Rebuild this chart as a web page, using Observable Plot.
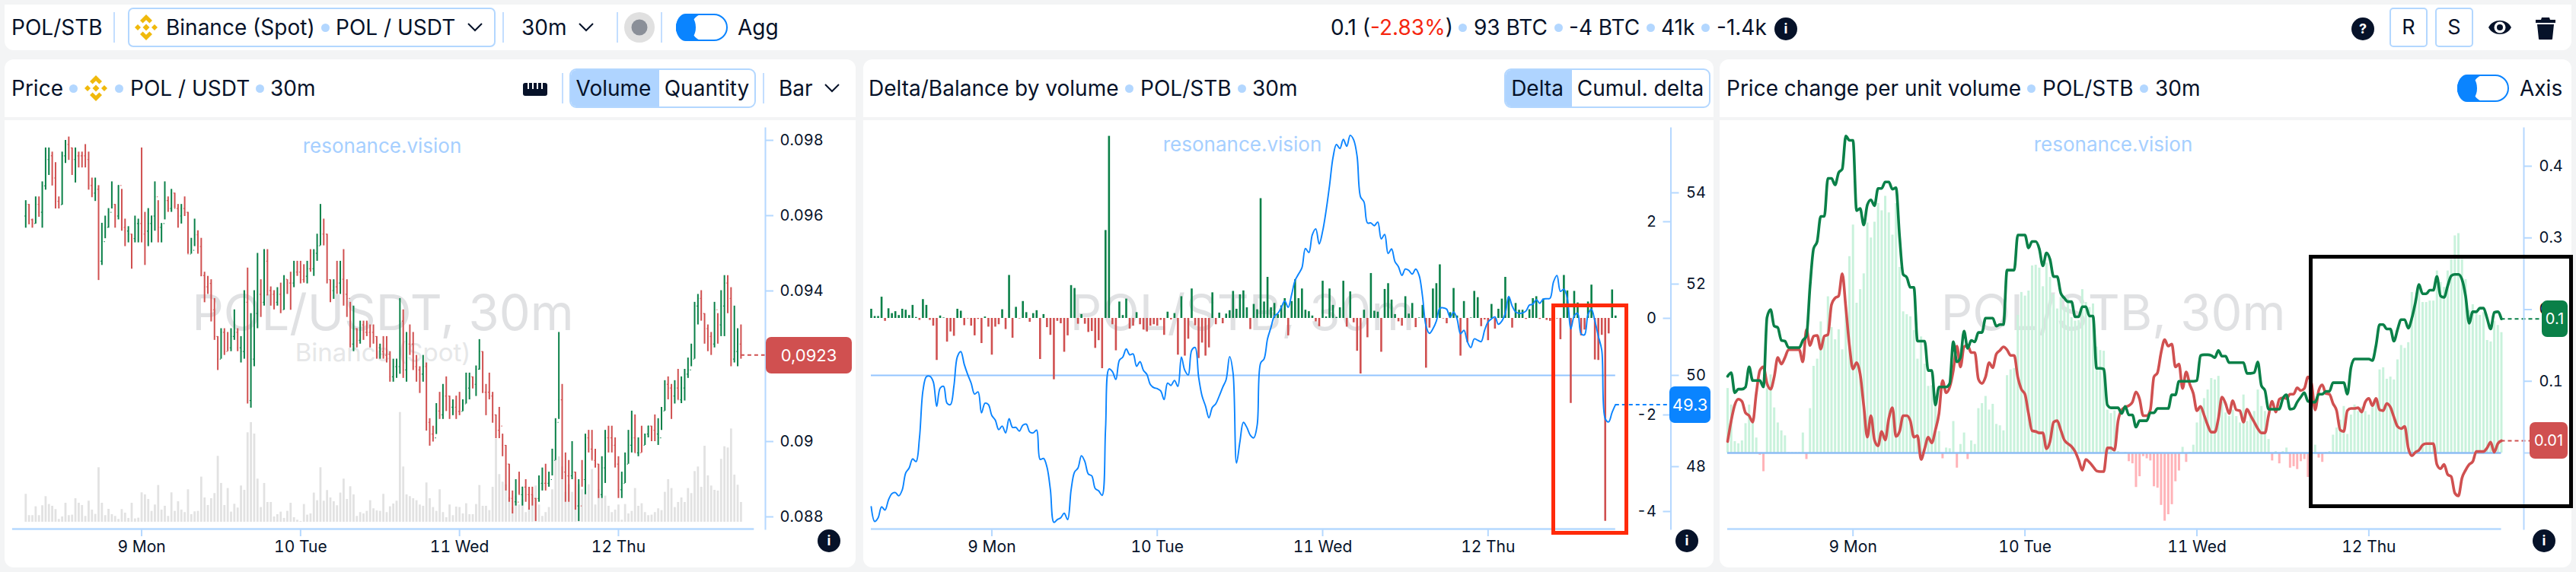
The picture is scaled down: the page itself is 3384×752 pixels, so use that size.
<!DOCTYPE html>
<html><head><meta charset="utf-8">
<script src="https://cdn.jsdelivr.net/npm/d3@7"></script>
<script src="https://cdn.jsdelivr.net/npm/@observablehq/plot@0.6"></script>
<style>
html,body{margin:0;padding:0;width:3384px;height:752px;overflow:hidden;background:#f3f4f5;font-family:Inter,"Noto Sans",sans-serif;color:#061229}
.box{position:absolute;background:#fff}
.t{position:absolute;white-space:pre;line-height:1;transform:translateY(-50%)}
.abs{position:absolute}
svg{display:block}
</style></head><body>
<script>
// ---------- data ----------
const priceHigh=[
9640,9630,9591,9650,9650,9690,9780,9780,9769,9741,
9650,9769,9800,9809,9780,9780,9769,9769,9789,9769,
9700,9700,9680,9580,9599,9619,9690,9630,9680,9670,
9591,9571,9551,9599,9591,9780,9609,9619,9599,9690,
9640,9579,9690,9650,9670,9660,9630,9630,9650,9609,
9540,9591,9560,9540,9450,9439,9430,9380,9279,9300,
9300,9290,9300,9350,9300,9279,9401,9461,9340,9401,
9500,9430,9510,9510,9411,9401,9409,9421,9441,9430,
9450,9479,9479,9479,9470,9479,9510,9510,9551,9630,
9591,9551,9430,9430,9479,9479,9510,9430,9370,9360,
9300,9320,9320,9320,9310,9310,9279,9259,9279,9279,
9239,9219,9219,9380,9350,9290,9310,9290,9229,9199,
9229,9209,9061,9041,9101,9131,9152,9172,9121,9111,
9121,9131,9111,9182,9182,9172,9201,9271,9239,9152,
9182,9131,9071,9091,9020,8990,8940,8869,8899,8919,
8879,8899,8879,8879,8849,8909,8930,8940,8919,8980,
9061,9290,9152,8970,8950,9000,8919,8899,8950,9020,
9030,9030,8980,8940,8960,9030,9041,9041,9010,8960,
8919,8970,9030,9081,9071,9010,9041,9020,9041,9041,
9071,9061,9091,9162,9172,9152,9162,9192,9172,9192,
9222,9259,9370,9391,9401,9340,9310,9290,9370,9340,
9401,9441,9441,9409,9360,9300,9310];
const priceLow=[
9567,9576,9567,9578,9596,9567,9668,9707,9679,9618,
9618,9628,9739,9747,9707,9687,9727,9727,9727,9668,
9648,9638,9428,9468,9539,9567,9618,9567,9589,9559,
9518,9528,9458,9528,9528,9528,9468,9518,9528,9559,
9528,9528,9589,9609,9609,9619,9567,9578,9598,9498,
9498,9518,9498,9438,9369,9391,9318,9269,9189,9219,
9229,9239,9239,9269,9239,9209,9219,9100,9089,9199,
9300,9330,9360,9387,9360,9350,9360,9340,9349,9391,
9349,9409,9439,9419,9421,9419,9450,9439,9479,9520,
9520,9419,9369,9378,9391,9391,9360,9330,9249,9239,
9249,9259,9269,9279,9249,9259,9219,9219,9219,9209,
9158,9158,9168,9179,9168,9158,9229,9189,9158,9128,
9158,9028,8988,8999,9019,9059,9059,9080,9059,9069,
9059,9069,9080,9100,9111,9140,9120,9190,9128,9069,
9111,9049,9008,9008,8960,8869,8839,8808,8829,8859,
8829,8839,8818,8829,8788,8839,8869,8869,8879,8909,
8950,9059,8899,8839,8839,8899,8818,8788,8879,8859,
8970,8950,8930,8849,8849,8889,8970,8970,8930,8849,
8849,8889,8940,8970,8970,8960,8970,8990,9010,9000,
9000,8990,9030,9081,9111,9059,9100,9111,9101,9108,
9168,9199,9219,9310,9320,9259,9239,9229,9249,9259,
9279,9279,9340,9199,9209,9199,9219];
const priceClose=[
9630,9589,9579,9630,9609,9679,9749,9759,9700,9638,
9629,9759,9789,9780,9749,9759,9759,9759,9749,9680,
9660,9670,9479,9531,9569,9609,9630,9599,9680,9569,
9559,9551,9539,9579,9579,9551,9559,9579,9599,9650,
9569,9579,9640,9619,9660,9619,9599,9619,9609,9498,
9508,9549,9518,9441,9411,9420,9350,9279,9219,9290,
9239,9249,9279,9290,9249,9239,9370,9109,9219,9340,
9391,9370,9479,9401,9391,9370,9391,9350,9431,9421,
9421,9450,9450,9430,9439,9459,9459,9500,9520,9551,
9551,9430,9401,9411,9421,9431,9391,9380,9259,9300,
9269,9310,9290,9290,9290,9279,9249,9239,9229,9232,
9172,9199,9199,9320,9190,9259,9259,9199,9190,9179,
9199,9051,9020,9010,9081,9071,9121,9121,9091,9091,
9080,9080,9100,9142,9172,9152,9192,9239,9131,9131,
9121,9071,9030,9041,8990,8940,8849,8840,8839,8859,
8879,8859,8859,8849,8849,8889,8889,8889,8899,8950,
9051,9111,8919,8909,8909,8919,8829,8829,8899,9010,
8980,8950,8940,8859,8930,9010,9010,8990,8940,8872,
8889,8940,8990,9010,8970,8970,8990,9020,9041,9030,
9020,9010,9081,9152,9142,9121,9142,9111,9142,9179,
9190,9219,9360,9380,9340,9300,9279,9259,9350,9310,
9360,9421,9380,9219,9239,9259,9230];
const priceUp=[
1,0,0,1,0,1,1,1,0,0,
0,1,1,0,0,1,0,0,0,0,
0,1,0,1,1,1,1,0,1,0,
0,1,0,1,1,0,0,1,1,1,
0,1,1,0,1,0,0,1,0,0,
1,1,0,0,0,0,0,0,0,1,
0,0,1,1,0,1,1,0,1,1,
1,0,1,0,0,0,1,0,1,0,
0,1,0,0,0,1,0,1,1,1,
0,0,0,1,0,1,0,0,0,1,
0,1,0,0,0,0,0,1,0,0,
0,1,1,1,0,1,0,0,0,0,
1,0,0,0,1,0,1,0,0,1,
0,0,1,1,1,0,1,1,0,0,
0,0,0,0,0,0,0,0,1,0,
1,0,0,0,0,1,1,0,1,1,
1,1,0,0,0,1,0,1,0,1,
0,0,0,0,1,1,0,0,0,0,
1,1,1,1,0,1,0,1,1,0,
0,1,1,1,0,0,1,0,1,1,
1,1,1,1,0,0,0,0,1,0,
1,1,0,0,1,1,0];
const volume=[
110,26,26,61,26,65,101,70,63,50,
11,21,75,26,28,93,75,66,23,83,
48,31,215,75,26,51,30,23,11,50,
36,15,75,13,16,116,108,90,43,68,
145,48,63,23,116,43,81,48,38,128,
30,41,43,178,96,66,93,113,260,153,
66,133,40,71,56,143,126,353,393,348,
170,58,153,78,78,21,30,40,15,43,
75,18,8,3,70,28,33,115,85,215,
83,125,96,81,65,115,170,90,140,108,
23,38,33,43,85,53,45,43,110,38,
61,72,83,433,218,108,101,93,85,68,
63,155,93,58,43,128,38,18,68,26,
60,58,33,73,30,30,70,145,63,63,
46,138,328,188,158,148,98,58,103,68,
88,38,58,108,143,68,23,38,58,128,
248,258,218,118,148,118,178,148,128,118,
148,208,68,128,93,103,63,38,48,68,
8,70,33,43,133,63,73,38,26,28,
38,53,46,118,168,133,58,78,96,78,
133,113,200,218,138,300,183,143,126,123,
248,298,293,368,186,146,78];
const delta=[
.19,.04,.04,.44,-.06,.20,.10,.14,.06,.19,
.17,.06,.27,.02,-.04,.39,.27,-.04,-.16,-.87,
.05,.01,-.49,-.28,-.37,.19,.15,-.15,-.01,-.16,
-.36,-.02,-.52,.03,-.18,-.76,-.18,-.13,.18,-.23,
.89,-.41,.23,-.01,.35,.12,-.08,.10,.16,-.85,
.08,-.19,-.35,-1.27,-.06,-.11,-.70,-.36,.68,.62,
-.12,.08,-.12,-.29,-.27,-.62,-.46,-1.04,1.82,3.77,
-.13,-.67,.34,.06,.40,-.22,-.16,.12,-.13,-.24,
-.28,-.16,-.13,-.16,-.04,-.35,.13,-.03,.10,-.76,
.45,-.78,-.43,.61,-.15,-.83,-.51,-.78,-.61,.53,
-.13,.11,-.11,.09,.16,.56,.19,.49,.57,.22,
-.23,.29,.18,2.48,.34,.85,.22,.31,.08,.26,
.41,-.36,.35,.80,.41,.61,.17,.14,.05,-.07,
-.17,.77,.03,.61,.27,.02,.22,.77,-.18,.55,
-.09,-.68,-1.15,.17,-.40,.93,.15,.13,-.70,.60,
.72,.38,.08,-.07,-.16,.45,.09,.31,-.19,.01,
.27,-1.03,-.20,.61,.72,1.11,-.01,-.11,.12,.62,
.05,-.78,.35,-.50,.01,.56,.43,-.17,-.03,-.46,
.29,-.22,.19,.40,.85,.44,-.20,.31,.17,.17,
-.02,.18,.41,.45,-.02,.40,-.04,-.06,-.34,-.01,
-.44,.89,.57,-1.76,.56,.32,-.36,-.24,.34,.69,
-.86,-.87,-.35,-4.20,-.32,.59,.05];
const balance=[
47.12,46.80,46.88,47.12,47.05,47.27,47.41,47.43,47.36,47.49,
47.86,47.97,48.17,48.11,48.63,49.66,49.97,49.98,49.86,49.32,
49.72,49.76,49.39,49.36,49.77,50.41,50.52,50.24,50.02,49.83,
49.59,49.64,49.18,49.39,49.36,49.12,49.02,48.81,48.89,48.74,
49.05,48.86,48.86,48.78,48.91,48.93,48.76,48.74,48.80,48.16,
48.18,47.99,47.49,46.78,46.84,46.88,46.98,46.84,47.49,47.88,
47.97,48.24,48.11,47.84,47.80,47.52,47.47,47.37,48.83,50.14,
50.08,49.91,50.33,50.40,50.58,50.45,50.47,50.20,50.30,50.11,
50.02,49.80,49.73,49.71,49.66,49.47,49.83,49.78,49.89,49.76,
50.40,50.11,50.01,50.55,50.61,49.97,49.55,49.33,49.07,49.30,
49.38,49.55,49.74,49.91,50.41,50.05,48.08,48.55,48.97,48.86,
48.69,48.63,48.91,50.27,50.36,50.80,51.05,51.30,51.36,51.49,
51.63,51.49,51.77,52.08,52.22,52.36,52.78,52.69,53.08,53.21,
52.88,53.16,53.61,54.16,54.77,55.06,54.97,55.17,55.02,55.26,
55.16,54.80,53.91,53.80,53.34,53.34,53.28,53.36,52.99,53.09,
52.67,52.77,52.49,52.38,52.19,52.33,52.30,52.22,52.33,52.19,
51.72,51.08,50.92,51.02,51.19,51.47,51.48,51.45,51.27,51.39,
51.24,50.91,50.99,50.74,50.61,50.80,50.77,50.74,50.99,51.17,
51.24,51.28,51.12,51.19,51.36,51.73,51.52,51.39,51.36,51.37,
51.41,51.54,51.56,51.66,51.58,51.67,51.68,51.69,52.05,52.19,
51.84,51.89,51.69,51.02,51.30,51.36,50.91,50.89,51.33,51.45,
51.19,50.86,50.55,49.05,48.98,49.19,49.36];
const changeHist=[
.090,.067,.016,.013,.017,.041,.067,.048,.021,-.003,
-.026,.090,.109,.063,.042,.031,.024,.001,.001,.001,
.001,.028,-.009,.062,.121,.131,.183,.162,.218,.175,
.158,.172,.144,.203,.274,.318,.209,.228,.250,.321,
.300,.322,.348,.338,.358,.335,.304,.348,.259,.197,
.193,.190,.171,.131,.162,.124,.093,.094,.067,.030,
-.008,.007,.006,.044,-.021,.012,.028,-.009,.017,.012,
.062,.069,.079,.060,.068,.040,.038,.031,.108,.116,
.118,.192,.224,.219,.226,.261,.262,.258,.232,.265,
.245,.221,.201,.217,.203,.215,.189,.184,.185,.228,
.210,.203,.208,.148,.143,.142,.060,.055,.059,.002,
-.001,.001,-.012,-.015,-.048,-.033,-.005,-.008,-.011,-.047,
-.049,-.073,-.095,-.086,-.072,-.040,-.025,.008,-.013,.001,
.011,.042,.065,.076,.088,.104,.102,.107,.071,.056,
.051,.060,.051,.042,.081,.044,.051,.058,.088,.065,
.058,.019,-.011,.002,-.015,.002,.007,-.021,-.019,-.023,
-.012,-.009,-.034,-.005,.011,-.007,-.013,.001,.002,.025,
.035,.046,.065,.026,.053,.067,.058,.064,.058,.053,
.064,.076,.116,.119,.103,.106,.102,.130,.150,.146,
.154,.224,.215,.235,.210,.210,.212,.212,.254,.238,
.231,.254,.270,.303,.306,.270,.242,.199,.207,.196,
.192,.196,.157,.155,.184,.178,.168];
const changeGreen=[
.107,.112,.084,.089,.089,.092,.120,.101,.101,.101,
.092,.189,.200,.177,.175,.157,.156,.147,.147,.147,
.147,.157,.163,.232,.285,.295,.330,.330,.383,.383,
.374,.391,.396,.442,.436,.436,.338,.341,.318,.346,
.353,.345,.369,.369,.378,.378,.368,.370,.302,.249,
.245,.231,.231,.156,.156,.156,.115,.115,.067,.092,
.092,.092,.097,.155,.127,.133,.170,.146,.157,.155,
.168,.168,.188,.188,.188,.177,.179,.179,.255,.255,
.255,.304,.304,.304,.286,.295,.295,.285,.261,.279,
.270,.246,.246,.223,.216,.211,.211,.190,.190,.204,
.204,.191,.191,.118,.118,.117,.067,.063,.063,.063,
.055,.065,.053,.053,.036,.045,.045,.045,.056,.056,
.062,.062,.062,.062,.081,.081,.100,.100,.100,.100,
.100,.101,.136,.137,.137,.136,.133,.143,.135,.135,
.126,.126,.126,.126,.126,.111,.111,.112,.127,.094,
.087,.061,.061,.061,.061,.076,.081,.061,.062,.071,
.078,.084,.072,.071,.071,.082,.082,.086,.086,.098,
.098,.098,.098,.082,.119,.131,.131,.131,.131,.131,
.129,.150,.179,.179,.173,.173,.156,.172,.186,.186,
.174,.188,.210,.235,.222,.222,.227,.227,.246,.219,
.217,.233,.247,.249,.249,.242,.219,.181,.197,.197,
.202,.202,.188,.173,.196,.197,.187];
const changeRed=[
.016,.045,.067,.075,.072,.056,.052,.043,.083,.115,
.120,.097,.089,.106,.133,.124,.133,.144,.144,.144,
.144,.127,.172,.150,.163,.164,.145,.163,.165,.207,
.216,.219,.250,.203,.150,.117,.126,.110,.066,.022,
.052,.018,.010,.030,.018,.048,.063,.023,.030,.052,
.052,.045,.022,.024,-.009,.006,.022,.014,.032,.055,
.101,.084,.092,.115,.149,.120,.148,.150,.140,.140,
.103,.097,.106,.126,.119,.138,.143,.148,.144,.136,
.136,.106,.089,.082,.055,.031,.030,.028,.028,.006,
.016,.043,.045,.032,.018,.013,.009,.002,-.010,-.024,
-.009,-.013,-.019,-.025,-.026,-.026,.007,.007,.004,.045,
.060,.064,.066,.071,.085,.075,.052,.052,.060,.106,
.112,.140,.158,.149,.152,.120,.124,.090,.113,.096,
.083,.059,.065,.053,.039,.029,.029,.048,.078,.069,
.055,.073,.060,.059,.043,.061,.052,.043,.034,.028,
.028,.052,.072,.057,.075,.077,.076,.082,.082,.091,
.087,.090,.106,.097,.060,.087,.095,.083,.082,.069,
.059,.032,.030,.059,.062,.062,.063,.057,.071,.076,
.066,.076,.060,.059,.069,.064,.050,.037,.034,.037,
.007,-.004,.001,.004,.011,.013,.013,.013,-.016,-.022,
-.016,-.030,-.033,-.056,-.060,-.035,-.024,-.016,-.012,.002,
.002,.002,.007,.015,.001,.013,.017];
const priceTicks=[0.098,0.096,0.094,0.092,0.09,0.088];
const deltaTicks=[2,0,-2,-4];
const balanceTicks=[54,52,50,48];
const changeTicks=[0.4,0.3,0.2,0.1,0];
const dayTicks=[Date.UTC(2026,1,9),Date.UTC(2026,1,10),Date.UTC(2026,1,11),Date.UTC(2026,1,12)].map(d=>new Date(d));

// ---------- helpers ----------
const GREEN="#0a8048",RED="#d05050",AXIS="#b5d8ff",INK="#061229",BLUE="#0a84ff",LIGHT="#b3d7ff";
const startMs=Date.UTC(2026,1,8,6,30);
const time=i=>new Date(startMs+i*1800000);
const idx=d3.range(priceHigh.length);
const dayFmt=d3.utcFormat("%-d %a");
const add=(html)=>{const w=document.createElement("div");w.innerHTML=html;const n=w.firstElementChild;document.body.appendChild(n);return n;};
const box=(x,y,w,h,r)=>add(`<div class="box" style="left:${x}px;top:${y}px;width:${w}px;height:${h}px;border-radius:${r}"></div>`);
const label=(x,cy,s,size=28,extra="")=>add(`<div class="t" style="left:${x}px;top:${cy}px;font-size:${size}px;${extra}">${s}</div>`);
const dot=(x,cy)=>add(`<div class="abs" style="left:${x-5.5}px;top:${cy-5.5}px;width:11px;height:11px;border-radius:50%;background:${LIGHT}"></div>`);
const divider=(x,cy)=>add(`<div class="abs" style="left:${x-1}px;top:${cy-20}px;width:2px;height:40px;background:#c3deff"></div>`);
const svgAt=(x,y,w,h,body)=>add(`<svg class="abs" style="left:${x}px;top:${y}px" width="${w}" height="${h}" viewBox="0 0 ${w} ${h}">${body}</svg>`);
const binance=(cx,cy)=>svgAt(cx-15,cy-17,30,34,`<g fill="#f0b90b"><path d="M15 0l8 8-3.6 3.6L15 7.2l-4.4 4.4L7 8z"/><path d="M15 34l8-8-3.6-3.6L15 26.8l-4.4-4.4L7 26z"/><path d="M4 13l4 4-4 4-4-4z"/><path d="M26 13l4 4-4 4-4-4z"/><path d="M15 12.5l4.5 4.5-4.5 4.5-4.5-4.5z"/></g>`);
const chevron=(cx,cy)=>svgAt(cx-11,cy-7,22,14,`<path d="M2 2l9 9 9-9" fill="none" stroke="${INK}" stroke-width="2"/>`);
const toggle=(x,cy)=>svgAt(x,cy-18,68,36,`<rect x="1" y="1" width="66" height="34" rx="17" fill="#fff" stroke="${BLUE}" stroke-width="2"/><path d="M18 0h20a18 18 0 0 0 0 36H18a18 18 0 0 1 0-36z" fill="${BLUE}"/><rect x="0" y="0" width="26" height="36" rx="18" fill="${BLUE}"/>`);
const info=(cx,cy,ch="i")=>add(`<div class="abs" style="left:${cx-15}px;top:${cy-15}px;width:30px;height:30px;border-radius:50%;background:${INK};color:#fff;font-size:18px;font-weight:700;text-align:center;line-height:30px">${ch}</div>`);
const segmented=(x,w,split,a,b)=>{
  add(`<div class="abs" style="left:${x}px;top:90px;width:${w-4}px;height:48px;border:2px solid ${LIGHT};border-radius:9px;overflow:hidden;background:#fff"><div style="width:${split}px;height:100%;background:#afd4ff"></div></div>`);
  label(x+split/2,116,a,28,"transform:translate(-50%,-50%)");
  label(x+split+(w-split)/2,116,b,28,"transform:translate(-50%,-50%)");
};
const tag=(x,y,w,h,bg,s,size=22)=>add(`<div class="abs" style="left:${x}px;top:${y}px;width:${w}px;height:${h}px;background:${bg};border-radius:7px;color:#fff;font-size:${size}px;text-align:center;line-height:${h}px">${s}</div>`);

// ---------- frames ----------
box(6,6,3372,60,"0 0 12px 12px");
box(6,78,1118,76,"12px 12px 0 0"); box(6,158,1118,588,"0 0 12px 12px");
box(1134,78,1117,76,"12px 12px 0 0"); box(1134,158,1117,588,"0 0 12px 12px");
box(2259,78,1119,76,"12px 12px 0 0"); box(2259,158,1119,588,"0 0 12px 12px");

// ---------- top bar ----------
label(15,36,"POL/STB");
divider(150,36);
add(`<div class="abs" style="left:168px;top:10px;width:479px;height:48px;border:2px solid ${LIGHT};border-radius:7px"></div>`);
binance(192,36);
label(218,36,"Binance (Spot)"); dot(427,36); label(441,36,"POL / USDT"); chevron(624,36);
divider(661,36); label(685,36,"30m"); chevron(770,36);
divider(811,36); divider(869,36);
svgAt(820,16,40,40,`<circle cx="20" cy="20" r="20" fill="#e0e0e0"/><circle cx="20" cy="20" r="10.5" fill="#8a8f98"/>`);
toggle(888,36); label(969,36,"Agg");
label(1748,36,`0.1 (<span style="color:#f5260f">-2.83%</span>)`);
dot(1921,36); label(1936,36,"93 BTC"); dot(2047,36); label(2061,36,"-4 BTC"); dot(2168,36); label(2182,36,"41k"); dot(2240,36); label(2255,36,"-1.4k");
info(2346,38);
info(3104,38,"?");
add(`<div class="abs" style="left:3139px;top:10px;width:46px;height:48px;border:2px solid ${LIGHT};border-radius:5px;font-size:27px;text-align:center;line-height:48px">R</div>`);
add(`<div class="abs" style="left:3199px;top:10px;width:46px;height:48px;border:2px solid ${LIGHT};border-radius:5px;font-size:27px;text-align:center;line-height:48px">S</div>`);
svgAt(3268,20,32,32,`<path d="M1 16C7 4 25 4 31 16C25 28 7 28 1 16z" fill="${INK}"/><circle cx="16" cy="16" r="7.5" fill="#fff"/><circle cx="16" cy="16" r="4" fill="${INK}"/>`);
svgAt(3330,20,28,32,`<path d="M9 3h10l1 3h7v4H1V6h7z M3 12h22l-2 19a1 1 0 0 1-1 1H6a1 1 0 0 1-1-1z" fill="${INK}"/>`);

// ---------- panel headers ----------
label(15,116,"Price"); dot(96,116); binance(126,116); dot(156,116); label(171,116,"POL / USDT"); dot(341,116); label(355,116,"30m");
svgAt(687,109,32,17,`<rect x="0" y="0" width="32" height="17" rx="3" fill="${INK}"/><g stroke="#fff" stroke-width="2"><path d="M7 0v8M13 0v8M19 0v8M25 0v8"/></g>`);
divider(739,116); segmented(748,245,116,"Volume","Quantity"); divider(1003,116); label(1023,116,"Bar"); chevron(1093,116);

label(1141,116,"Delta/Balance by volume"); dot(1483,116); label(1498,116,"POL/STB"); dot(1631,116); label(1645,116,"30m");
segmented(1976,271,87,"Delta","Cumul. delta");

label(2268,116,"Price change per unit volume"); dot(2668,116); label(2683,116,"POL/STB"); dot(2816,116); label(2831,116,"30m");
toggle(3228,116); label(3310,116,"Axis");

// ---------- watermarks ----------
const center=(cx,base,s,size,color)=>add(`<div class="abs" style="left:${cx}px;top:${base}px;font-size:${size}px;color:${color};line-height:0;white-space:pre;transform:translateX(-50%)">${s}</div>`);
center(502,192,"resonance.vision",26,"#a6cfff");
center(1632,190,"resonance.vision",26,"#a6cfff");
center(2776,190,"resonance.vision",26,"#a6cfff");
center(503,411,"POL/USDT, 30m",65,"#e0e1e3");
center(503,463,"Binance (Spot)",33,"#e6e7e8");
center(1632,411,"POL/STB, 30m",65,"#e0e1e3");
center(2776,411,"POL/STB, 30m",65,"#e0e1e3");

// ---------- charts ----------
const plotStyle={fontFamily:"Inter, sans-serif",fontSize:"20px",background:"transparent",overflow:"visible"};
const axisBase={stroke:AXIS,strokeWidth:2,fill:INK,label:null,tickSize:10};
const mount=(chart,x)=>{chart.style.position="absolute";chart.style.left=x+"px";chart.style.top="158px";document.body.appendChild(chart);};
const xAxis=()=>Plot.axisX({...axisBase,ticks:dayTicks,tickFormat:dayFmt,tickPadding:6,fontSize:21});
const bottomRule=(yv,i0,i1)=>Plot.ruleY([yv],{x1:time(i0),x2:time(i1),stroke:AXIS,strokeWidth:2.5});

// price
const toPrice=v=>v/1e5;
const openOf=i=>toPrice(i===0?9599:priceClose[i-1]);
const volumeToPrice=d3.scaleLinear([0,100],[0.08786,0.088533]);
const candleColor=i=>priceUp[i]?GREEN:RED;
const priceFrameBottom=0.087678;
mount(Plot.plot({
  width:1118,height:588,marginTop:10,marginBottom:51,marginLeft:0,marginRight:119,style:plotStyle,
  x:{type:"utc",domain:[time(0),time(216)],range:[27.3,966.9]},
  y:{domain:[0.088,0.098],range:[521,26]},
  marks:[
    Plot.ruleX(idx,{x:time,y1:()=>volumeToPrice(0),y2:i=>volumeToPrice(volume[i]),stroke:"#e2e2e2",strokeWidth:2.8}),
    Plot.ruleX(idx,{x:time,y1:i=>toPrice(priceLow[i]),y2:i=>toPrice(priceHigh[i]),stroke:candleColor,strokeWidth:2}),
    Plot.ruleY(idx,{y:openOf,x1:i=>time(i-0.28),x2:time,stroke:candleColor,strokeWidth:1.2}),
    Plot.ruleY(idx,{y:i=>toPrice(priceClose[i]),x1:time,x2:i=>time(i+0.28),stroke:candleColor,strokeWidth:1.2}),
    Plot.ruleY([0.0923],{x1:time(216),x2:time(223.4),stroke:RED,strokeWidth:2,strokeDasharray:"5,4"}),
    bottomRule(priceFrameBottom,-4,220),
    Plot.frame({anchor:"right",stroke:AXIS,strokeWidth:2}),
    Plot.axisY({...axisBase,anchor:"right",ticks:priceTicks,tickFormat:d=>String(d),tickPadding:9}),
    xAxis()
  ]
}),6);
tag(1006,443,113,48,RED,"0,0923");
info(1089,711);

// delta / balance
const balanceToDelta=d3.scaleLinear([48,54],[-3.0709,2.5984]);
const deltaColor=i=>delta[i]>=0?GREEN:RED;
mount(Plot.plot({
  width:1117,height:588,marginTop:10,marginBottom:51,marginLeft:1060.5,marginRight:56.5,style:plotStyle,
  x:{type:"utc",domain:[time(0),time(216)],range:[10,987.8]},
  y:{domain:[-4,2],range:[514,133]},
  marks:[
    Plot.ruleY([balanceToDelta(50)],{x1:time(0),x2:time(216),stroke:"#94c5ff",strokeWidth:2.2}),
    Plot.ruleX(idx,{x:time,y1:()=>0,y2:i=>delta[i],stroke:deltaColor,strokeWidth:2.6}),
    Plot.line(idx,{x:time,y:i=>balanceToDelta(balance[i]),stroke:BLUE,strokeWidth:1.9,curve:"catmull-rom"}),
    Plot.ruleY([balanceToDelta(49.36)],{x1:time(216),x2:time(231.7),stroke:BLUE,strokeWidth:2,strokeDasharray:"5,4"}),
    bottomRule(-4.362,0,216),
    Plot.frame({anchor:"right",stroke:AXIS,strokeWidth:2}),
    Plot.axisY({...axisBase,anchor:"left",ticks:deltaTicks,tickFormat:d=>String(d),tickPadding:9}),
    Plot.axisY({...axisBase,anchor:"right",ticks:balanceTicks.map(balanceToDelta),tickFormat:d=>String(Math.round(balanceToDelta.invert(d))),tickPadding:10}),
    xAxis()
  ]
}),1134);
tag(2193,508,54,48,BLUE,"49.3");
info(2216,711);
add(`<div class="abs" style="left:2038px;top:399px;width:91px;height:294px;border:5.5px solid #ff2a0a"></div>`);

// price change per unit volume
mount(Plot.plot({
  width:1119,height:588,marginTop:10,marginBottom:51,marginLeft:0,marginRight:63,style:plotStyle,
  x:{type:"utc",domain:[time(0),time(216)],range:[10,1026.5]},
  y:{domain:[0,0.4],range:[437,60]},
  marks:[
    Plot.ruleX(idx,{x:time,y1:()=>0,y2:i=>changeHist[i],stroke:i=>changeHist[i]>=0?"#c9f2dc":"#ffb3b8",strokeWidth:3}),
    Plot.ruleY([0],{x1:time(0),x2:time(216),stroke:"#8dbdf5",strokeWidth:2.5}),
    Plot.line(idx,{x:time,y:i=>changeRed[i],stroke:RED,strokeWidth:3.6,curve:"monotone-x"}),
    Plot.line(idx,{x:time,y:i=>changeGreen[i],stroke:GREEN,strokeWidth:3.6,curve:"monotone-x"}),
    Plot.ruleY([0.187],{x1:time(216),x2:time(227.4),stroke:GREEN,strokeWidth:2,strokeDasharray:"5,4"}),
    Plot.ruleY([0.017],{x1:time(216),x2:time(224),stroke:RED,strokeWidth:2,strokeDasharray:"5,4"}),
    bottomRule(-0.106,0,216),
    Plot.frame({anchor:"right",stroke:AXIS,strokeWidth:2}),
    Plot.axisY({...axisBase,anchor:"right",ticks:changeTicks,tickFormat:d=>String(d),tickPadding:10}),
    xAxis()
  ]
}),2259);
tag(3339,395,34,48,GREEN,"0.1",20);
tag(3323,555,50,48,RED,"0.01",20);
info(3342,711);
add(`<div class="abs" style="left:3033px;top:335px;width:337px;height:323px;border:5px solid #000"></div>`);
</script>
</body></html>
